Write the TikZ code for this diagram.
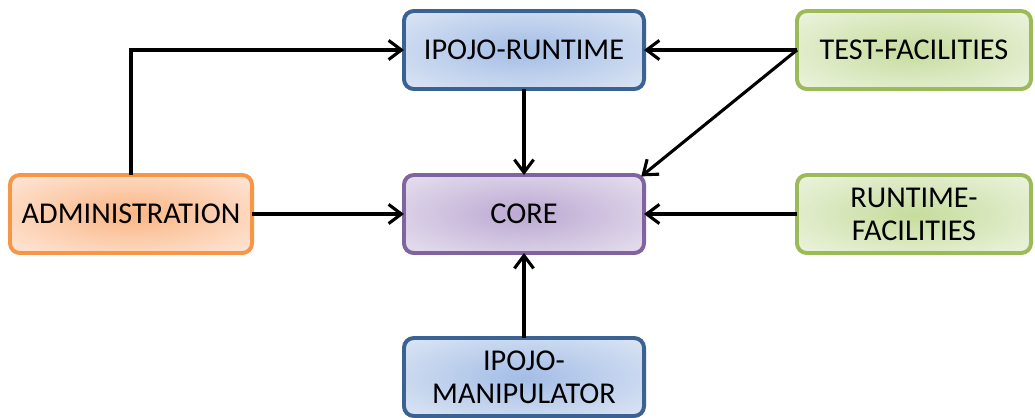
\documentclass[tikz,border=0pt]{standalone}
\usepackage{fontspec}
\setmainfont{Carlito}
\usepackage{tikz}
\usetikzlibrary{arrows.meta,positioning}
\definecolor{orangex}{HTML}{F79646}
\definecolor{orangein}{HTML}{FAB584}
\definecolor{orangeout}{HTML}{FEE8DA}
\definecolor{bluex}{HTML}{3A6293}
\definecolor{bluein}{HTML}{A3BDE6}
\definecolor{blueout}{HTML}{DDE6F4}
\definecolor{purplex}{HTML}{8064A2}
\definecolor{purplein}{HTML}{BBA8D2}
\definecolor{purpleout}{HTML}{E7E1EF}
\definecolor{greenx}{HTML}{9BBB59}
\definecolor{greenin}{HTML}{C6DC9C}
\definecolor{greenout}{HTML}{EDF4E1}
\pgfdeclareradialshading{orangeglow}{\pgfpoint{0bp}{0bp}}{color(0bp)=(orangein); color(36bp)=(orangeout); color(50bp)=(orangeout)}
\pgfdeclareradialshading{blueglow}{\pgfpoint{0bp}{0bp}}{color(0bp)=(bluein); color(36bp)=(blueout); color(50bp)=(blueout)}
\pgfdeclareradialshading{purpleglow}{\pgfpoint{0bp}{0bp}}{color(0bp)=(purplein); color(36bp)=(purpleout); color(50bp)=(purpleout)}
\pgfdeclareradialshading{greenglow}{\pgfpoint{0bp}{0bp}}{color(0bp)=(greenin); color(36bp)=(greenout); color(50bp)=(greenout)}
\tikzset{
  ar/.style={-{Straight Barb[length=3.2mm,width=4.8mm]},line width=2.2pt,black},
  box/.style={draw,line width=2.8pt,rounded corners=7pt,align=center,
    minimum width=6cm,minimum height=1.95cm,inner sep=2pt,outer sep=0pt,
    font=\fontsize{21.5}{23.5}\selectfont},
  orangebox/.style={box,draw=orangex,shading=orangeglow},
  bluebox/.style={box,draw=bluex,shading=blueglow},
  purplebox/.style={box,draw=purplex,shading=purpleglow},
  greenbox/.style={box,draw=greenx,shading=greenglow}
}
\begin{document}
\begin{tikzpicture}[x=0.025cm,y=-0.025cm]
\useasboundingbox (0,0) rectangle (1035,417);
% boxes
\node[bluebox] (runtime) at (524,50) {IPOJO-RUNTIME};
\node[purplebox] (core) at (524,214) {CORE};
\node[orangebox,minimum width=6.05cm] (admin) at (131,214) {ADMINISTRATION};
\node[greenbox,minimum width=5.85cm] (test) at (914,50) {TEST-FACILITIES};
\node[greenbox,minimum width=5.85cm] (rtfac) at (914,214) {RUNTIME-\\FACILITIES};
\node[bluebox] (manip) at (524,377) {IPOJO-\\MANIPULATOR};
% dependencies
\draw[ar] (admin.north) |- (runtime.west);
\draw[ar] (admin.east) -- (core.west);
\draw[ar] (runtime.south) -- (core.north);
\draw[ar] (test.west) -- (runtime.east);
\draw[ar] (test.west) -- ([xshift=-2pt,yshift=-1pt]core.north east);
\draw[ar] (rtfac.west) -- (core.east);
\draw[ar] (manip.north) -- (core.south);
\end{tikzpicture}
\end{document}
